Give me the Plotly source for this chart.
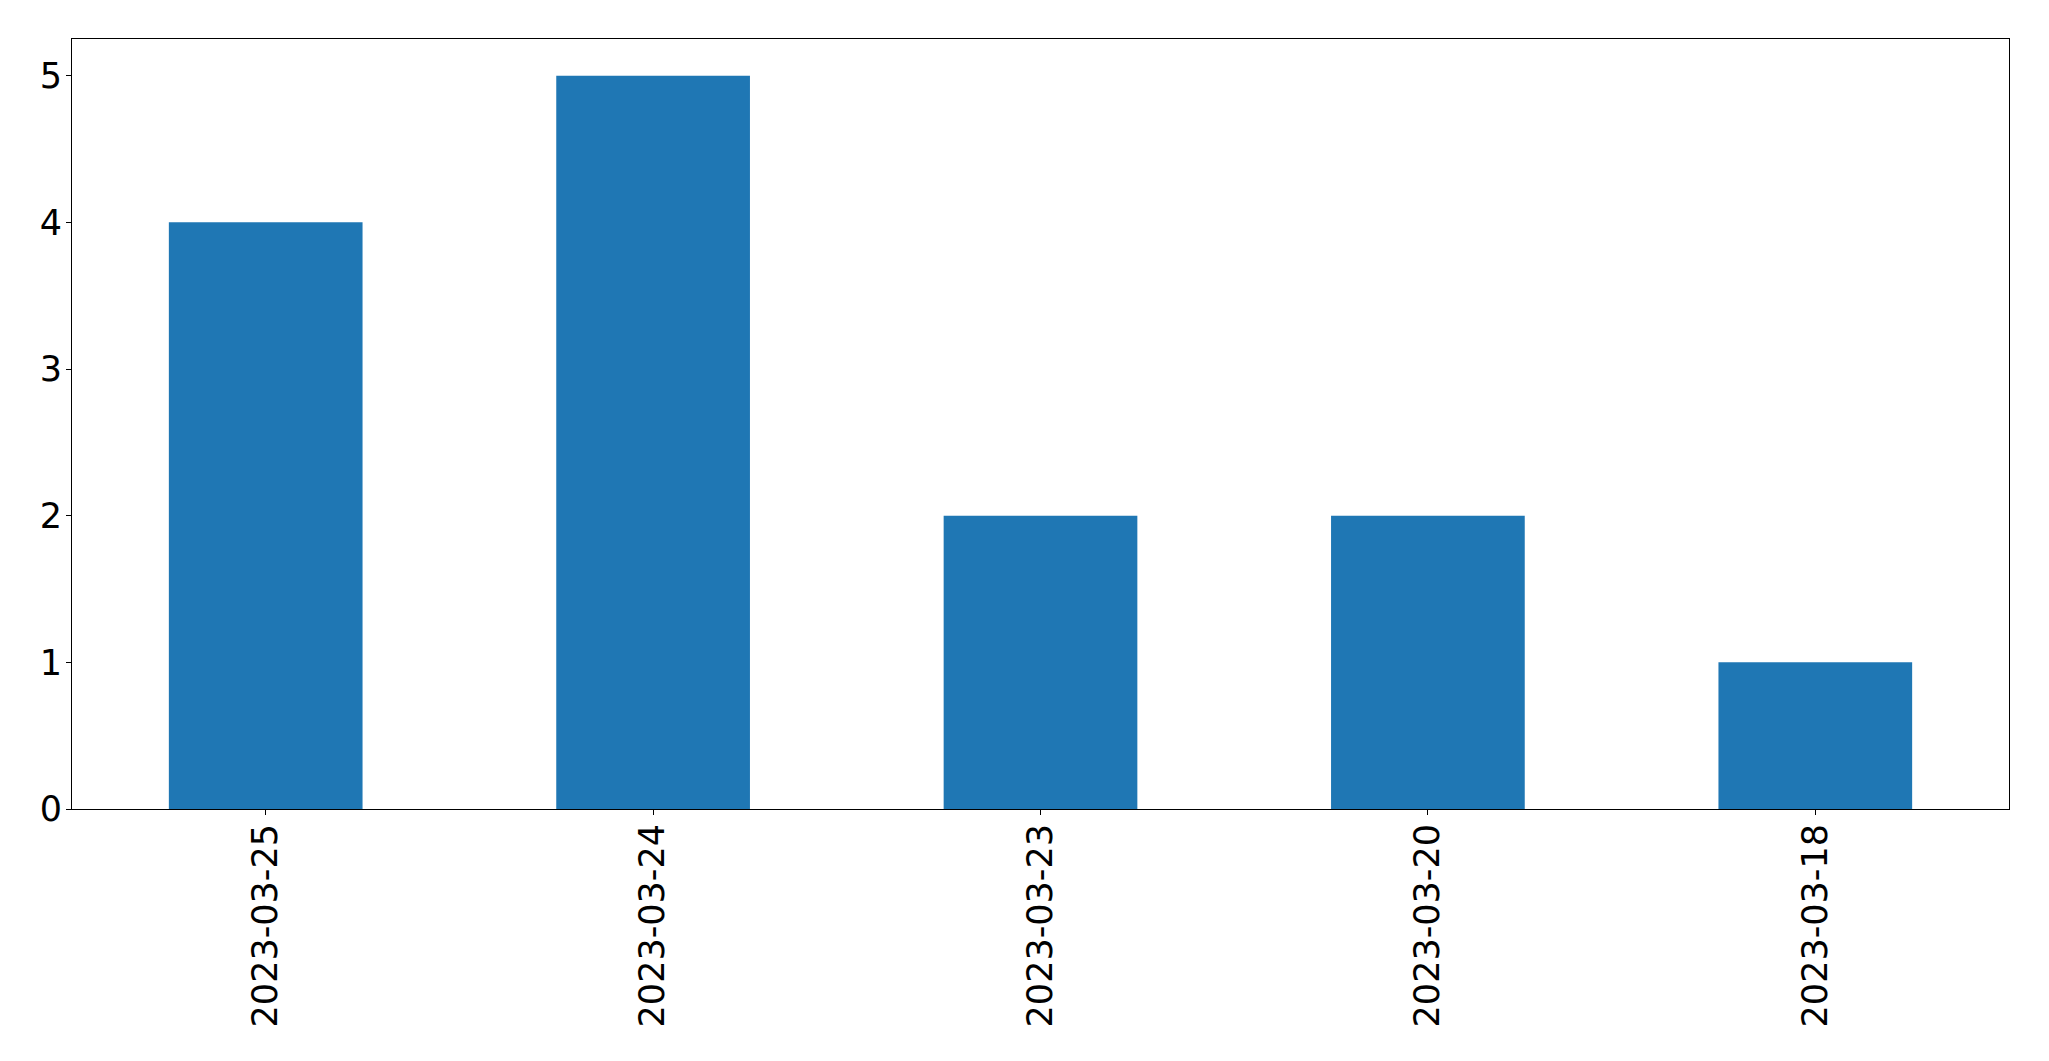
import plotly.graph_objects as go

dates = ["2023-03-25", "2023-03-24", "2023-03-23", "2023-03-20", "2023-03-18"]
counts = [4, 5, 2, 2, 1]
y_ticks = [0, 1, 2, 3, 4, 5]

fig = go.Figure()
fig.add_trace(go.Bar(x=dates, y=counts, width=0.5, marker=dict(color="#1f77b4", line=dict(width=0))))

font = dict(family="DejaVu Sans", size=35, color="black")
fig.update_layout(
    width=2049, height=1061,
    margin=dict(l=64, r=48, t=31, b=260, autoexpand=False),
    paper_bgcolor="white", plot_bgcolor="white",
    showlegend=False,
    font=font,
)
fig.update_xaxes(
    type="category", range=[-0.5, 4.5], automargin=False,
    showline=True, linecolor="black", linewidth=1, mirror=True,
    ticks="outside", ticklen=5, tickwidth=1, tickcolor="black",
    tickangle=-90, tickfont=font, showgrid=False, zeroline=False,
    ticklabelstandoff=-5,
)
fig.update_yaxes(
    range=[0, 5.25], tickvals=y_ticks, automargin=False,
    showline=True, linecolor="black", linewidth=1, mirror=True,
    ticks="outside", ticklen=5, tickwidth=1, tickcolor="black",
    tickfont=font, showgrid=False, zeroline=False,
    ticklabelstandoff=-3,
)
fig.write_html("out.html")
